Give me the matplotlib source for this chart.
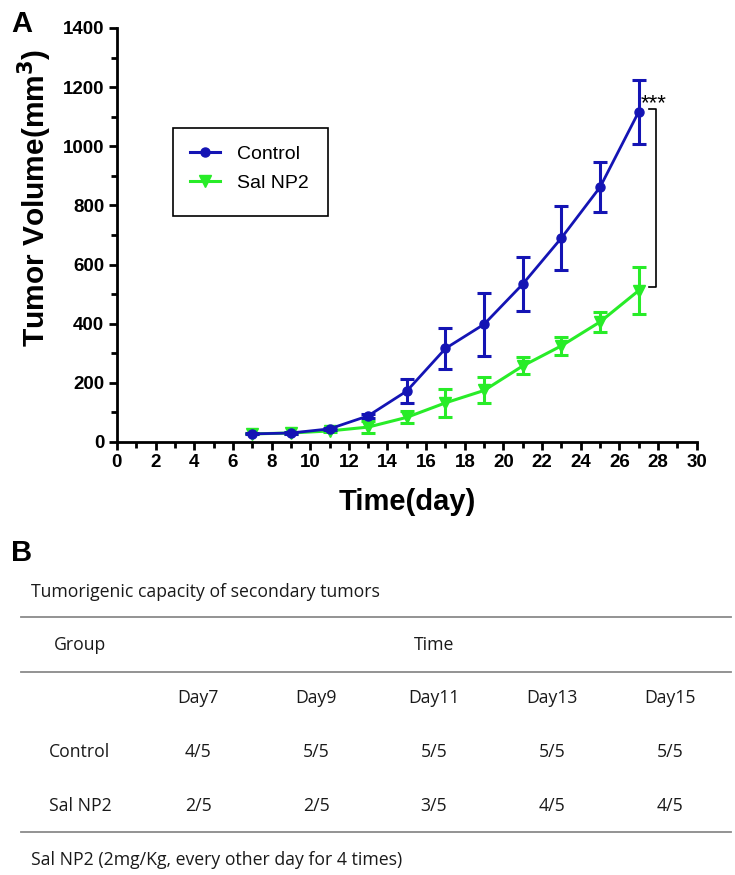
import matplotlib
matplotlib.use("Agg")
import matplotlib.pyplot as plt
from matplotlib.ticker import MultipleLocator
from matplotlib.lines import Line2D
from matplotlib.patches import Rectangle

days = [7, 9, 11, 13, 15, 17, 19, 21, 23, 25, 27]
control_mean = [27, 30, 44, 88, 172, 316, 398, 534, 690, 862, 1117]
control_err = [2, 3, 4, 6, 40, 68, 107, 90, 108, 86, 108]
salnp2_mean = [27, 30, 37, 50, 83, 132, 174, 257, 325, 406, 512]
salnp2_err = [2, 3, 4, 20, 20, 47, 44, 29, 31, 34, 78]

table_cols = ["Day7", "Day9", "Day11", "Day13", "Day15"]
table_groups = ["Control", "Sal NP2"]
table_vals = [["4/5", "5/5", "5/5", "5/5", "5/5"],
              ["2/5", "2/5", "3/5", "4/5", "4/5"]]

blue = "#1414b4"
green = "#28ec28"

plt.rcParams['font.family'] = ['Liberation Sans', 'DejaVu Sans']
fig = plt.figure(figsize=(7.35, 8.75), dpi=100)
ax = fig.add_axes([0.159, 0.495, 0.789, 0.473])

ax.errorbar(days, control_mean, yerr=control_err, color=blue, marker='o', ms=6.5,
            lw=2, elinewidth=2.2, capsize=5, capthick=2.2, zorder=3)
ax.errorbar(days, salnp2_mean, yerr=salnp2_err, color=green, marker='v', ms=8,
            lw=2.2, elinewidth=2.2, capsize=5, capthick=2.2, zorder=2)

ax.set_xlim(0, 30)
ax.set_ylim(0, 1400)
ax.xaxis.set_major_locator(MultipleLocator(2))
ax.xaxis.set_minor_locator(MultipleLocator(1))
ax.yaxis.set_major_locator(MultipleLocator(200))
ax.yaxis.set_minor_locator(MultipleLocator(100))
for s in ['top', 'right']:
    ax.spines[s].set_visible(False)
for s in ['left', 'bottom']:
    ax.spines[s].set_linewidth(2)
ax.tick_params(which='major', length=6, width=2, labelsize=13.5, pad=3)
ax.tick_params(which='minor', length=4, width=2)
for lab in ax.get_xticklabels() + ax.get_yticklabels():
    lab.set_fontweight('bold')
ax.set_xlabel("Time(day)", fontsize=21, fontweight='bold', labelpad=12)
ax.set_ylabel("Tumor Volume(mm$^\\mathbf{3}$)", fontsize=21.5, fontweight='bold')
ax.yaxis.set_label_coords(-0.109, 0.59)

# significance bracket
ax.plot([27.55, 27.9, 27.9, 27.55], [1126, 1126, 524, 524], color='black', lw=1.2, clip_on=False)
ax.text(27.75, 1145, "***", fontsize=16, ha='center', va='center')

# legend
handles = [Line2D([], [], color=blue, marker='o', lw=2.2, ms=6.5),
           Line2D([], [], color=green, marker='v', lw=2.2, ms=8)]
ax.legend(handles, ["Control", "Sal NP2"], loc='upper left',
          bbox_to_anchor=(0.126, 0.717), fontsize=14, frameon=False,
          handlelength=1.55, handletextpad=0.85, borderpad=0, borderaxespad=0,
          labelspacing=0.58)
ax.add_patch(Rectangle((0.0966, 0.546), 0.267, 0.2126, transform=ax.transAxes,
                       fill=False, edgecolor='black', lw=1.2, clip_on=False))

fig.text(0.015, 0.972, "A", fontsize=21, fontweight='bold', va='center')
fig.text(0.015, 0.368, "B", fontsize=21, fontweight='bold', va='center')

# Panel B table
def fy(p):
    return 1 - p / 875.0

tf = ['Open Sans', 'DejaVu Sans']
fs = 12.7
tc = '#1a1a1a'
fig.text(31/735, fy(592), "Tumorigenic capacity of secondary tumors", fontsize=fs,
         family=tf, va='center', color=tc)
for yy in [617, 672, 832]:
    fig.add_artist(Line2D([21/735, 731/735], [fy(yy), fy(yy)], color='#8a8a8a', lw=1.3))
col_x = [198, 316, 434, 552, 670]
fig.text(80/735, fy(645), "Group", fontsize=fs, family=tf, ha='center', va='center', color=tc)
fig.text(434/735, fy(645), "Time", fontsize=fs, family=tf, ha='center', va='center', color=tc)
for cx, c in zip(col_x, table_cols):
    fig.text(cx/735, fy(698), c, fontsize=fs, family=tf, ha='center', va='center', color=tc)
for ry, g, vals in zip([752, 806], table_groups, table_vals):
    fig.text(80/735, fy(ry), g, fontsize=fs, family=tf, ha='center', va='center', color=tc)
    for cx, v in zip(col_x, vals):
        fig.text(cx/735, fy(ry), v, fontsize=fs, family=tf, ha='center', va='center', color=tc)
fig.text(31/735, fy(860), "Sal NP2 (2mg/Kg, every other day for 4 times)", fontsize=fs,
         family=tf, va='center', color=tc)

fig.savefig("out.png", dpi=100)
